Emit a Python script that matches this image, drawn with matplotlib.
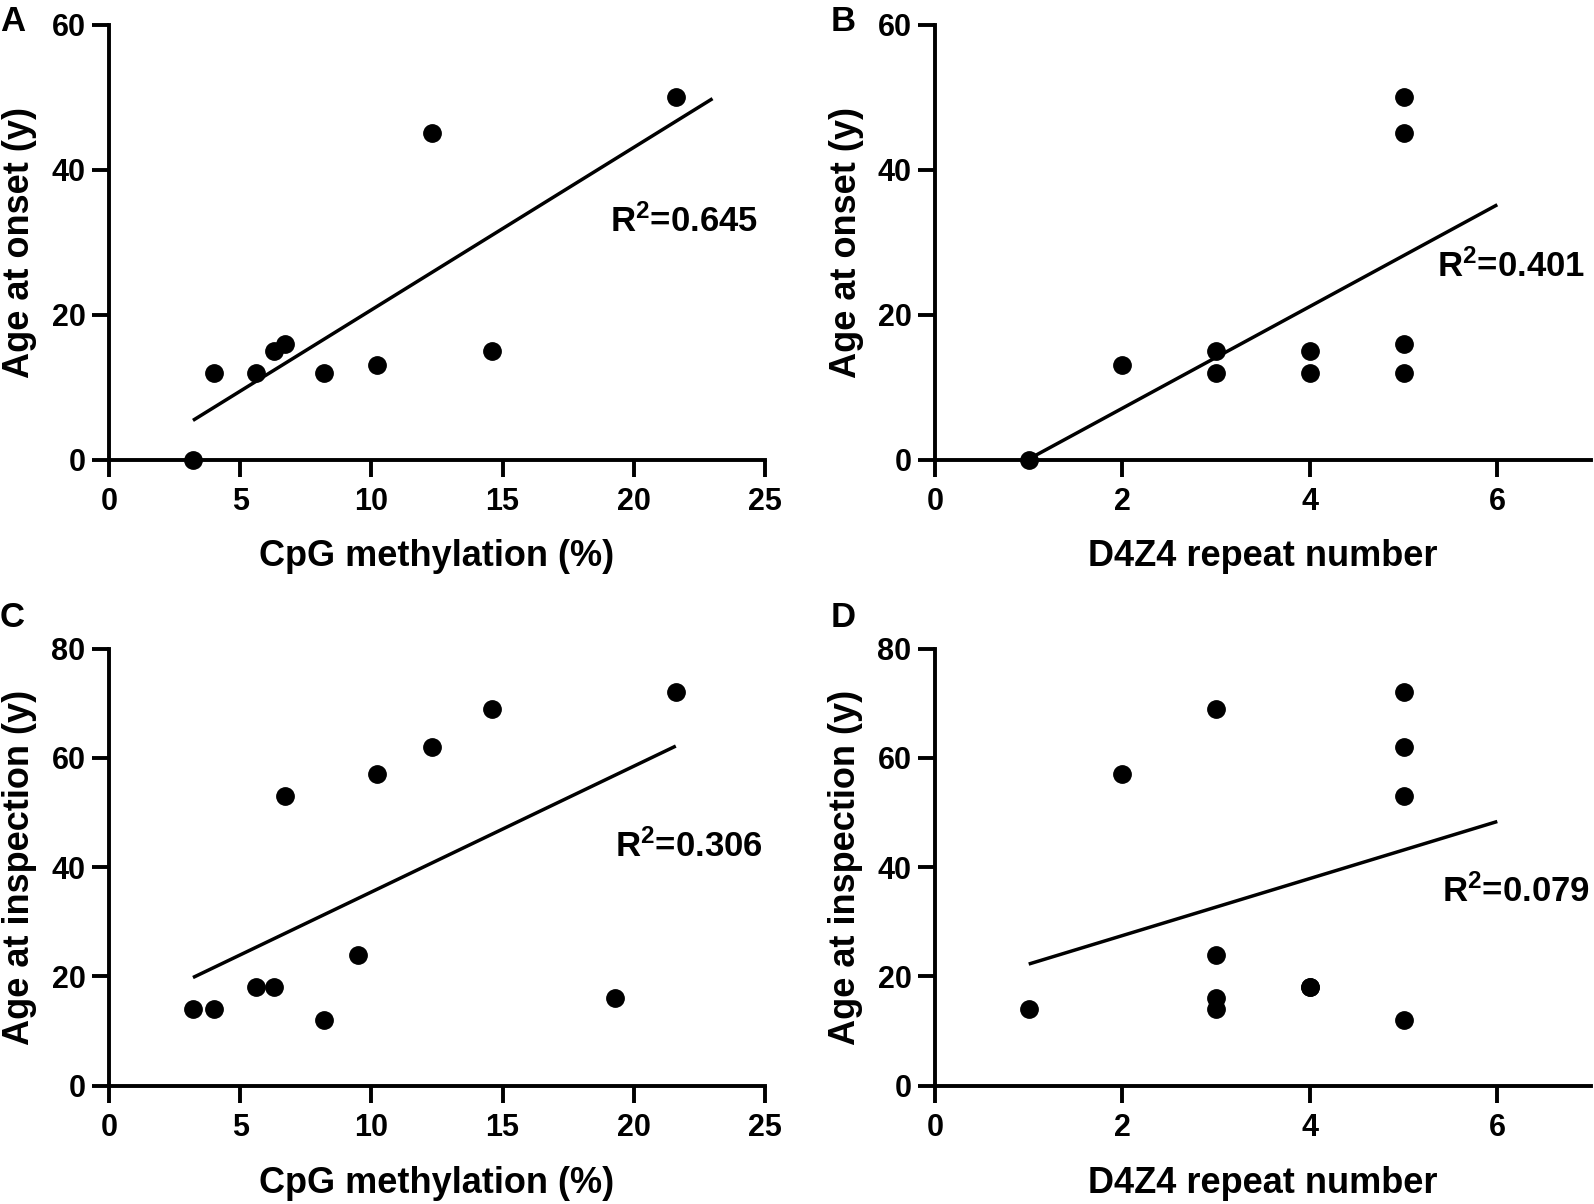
import numpy as np
import matplotlib
matplotlib.use("Agg")
import matplotlib.pyplot as plt

# data
cpg_onset = [3.2, 4.0, 5.6, 6.3, 6.7, 8.2, 10.2, 12.3, 14.6, 21.6]
age_onset_a = [0, 12, 12, 15, 16, 12, 13, 45, 15, 50]

d4z4_onset = [1, 2, 3, 3, 4, 4, 5, 5, 5, 5]
age_onset_b = [0, 13, 15, 12, 15, 12, 50, 45, 16, 12]

cpg_insp = [3.2, 4.0, 5.6, 6.3, 6.7, 8.2, 9.5, 10.2, 12.3, 14.6, 19.3, 21.6]
age_insp_c = [14, 14, 18, 18, 53, 12, 24, 57, 62, 69, 16, 72]

d4z4_insp = [1, 2, 3, 3, 3, 3, 4, 4, 5, 5, 5, 5]
age_insp_d = [14, 57, 69, 24, 16, 14, 18, 18, 72, 62, 53, 12]

r2_labels = ["0.645", "0.401", "0.306", "0.079"]
fit_ranges = [[3.2, 23], [1, 6], [3.2, 21.6], [1, 6]]

plt.rcParams["font.family"] = ["Liberation Sans", "DejaVu Sans"]
plt.rcParams["font.weight"] = "bold"
plt.rcParams["mathtext.default"] = "regular"

fig = plt.figure(figsize=(15.94, 12.04), dpi=100)

W, H = 656 / 1594, 435 / 1204
boxes = [
    [109 / 1594, 1 - 459.5 / 1204, W, H],
    [935 / 1594, 1 - 459.5 / 1204, W, H],
    [109 / 1594, 1 - 1085.7 / 1204, W, 437 / 1204],
    [935 / 1594, 1 - 1085.7 / 1204, W, 437 / 1204],
]
panels = [
    (cpg_onset, age_onset_a, "CpG methylation (%)", "Age at onset (y)", (0, 25), [0, 5, 10, 15, 20, 25], (0, 60), [0, 20, 40, 60], (19.1, 32.8)),
    (d4z4_onset, age_onset_b, "D4Z4 repeat number", "Age at onset (y)", (0, 7), [0, 2, 4, 6], (0, 60), [0, 20, 40, 60], (5.36, 26.6)),
    (cpg_insp, age_insp_c, "CpG methylation (%)", "Age at inspection (y)", (0, 25), [0, 5, 10, 15, 20, 25], (0, 80), [0, 20, 40, 60, 80], (19.3, 43.7)),
    (d4z4_insp, age_insp_d, "D4Z4 repeat number", "Age at inspection (y)", (0, 7), [0, 2, 4, 6], (0, 80), [0, 20, 40, 60, 80], (5.41, 35.5)),
]
letters = ["A", "B", "C", "D"]
letter_pos = [(0.0, 0.996), (0.521, 0.996), (0.0, 0.501), (0.521, 0.501)]

for i, (x, y, xl, yl, xlim, xt, ylim, yt, tpos) in enumerate(panels):
    ax = fig.add_axes(boxes[i])
    ax.plot(x, y, "o", color="black", markersize=12.5, clip_on=False, zorder=3)
    k, b = np.polyfit(x, y, 1)
    fx = np.array(fit_ranges[i])
    ax.plot(fx, k * fx + b, color="black", lw=2.5, solid_capstyle="butt")
    ax.set_xlim(*xlim)
    ax.set_ylim(*ylim)
    ax.set_xticks(xt)
    ax.set_yticks(yt)
    for s in ["top", "right"]:
        ax.spines[s].set_visible(False)
    for s in ["left", "bottom"]:
        ax.spines[s].set_linewidth(2.8)
    ax.tick_params(width=2.8, length=12, labelsize=22)
    ax.tick_params(axis="x", pad=8)
    ax.tick_params(axis="y", pad=5)
    for lab in ax.get_xticklabels() + ax.get_yticklabels():
        lab.set_fontweight("bold")
    ax.set_xlabel(xl, fontsize=26, fontweight="bold", labelpad=16)
    ax.set_ylabel(yl, fontsize=26, fontweight="bold", labelpad=10)
    ax.text(tpos[0], tpos[1], "R$^2$=" + r2_labels[i], fontsize=25, fontweight="bold", ha="left", va="center")
    fig.text(letter_pos[i][0], letter_pos[i][1], letters[i], fontsize=25, fontweight="bold", ha="left", va="top")

fig.savefig("out.png", dpi=100)
